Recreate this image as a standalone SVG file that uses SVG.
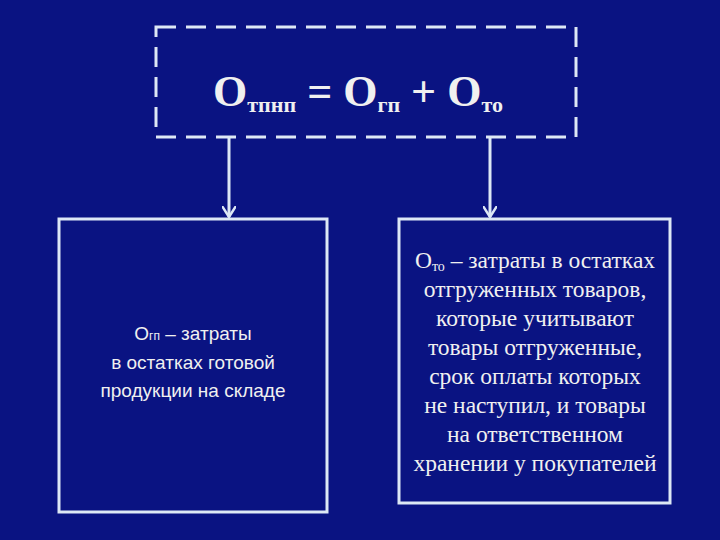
<svg xmlns="http://www.w3.org/2000/svg" width="720" height="540" viewBox="0 0 720 540">
<style>
.box{fill:none;stroke:#dde8f5;stroke-width:3}
.ser{font-family:"Liberation Serif",serif;fill:#f0f0f0}
.san{font-family:"Liberation Sans",sans-serif;fill:#f0f0f0}
.con{stroke:#dde8f5;stroke-width:3;fill:none}
</style>
<defs><marker id="ar" viewBox="0 0 12 14" refX="11" refY="7" markerWidth="12" markerHeight="14" markerUnits="userSpaceOnUse" orient="auto"><path d="M0,0 L11,7 L0,14" fill="none" stroke="#dde8f5" stroke-width="2.5"/></marker></defs>
<rect width="720" height="540" fill="#0a1382"/>
<g id="formula">
<rect class="box" x="156" y="27" width="420" height="110" stroke-dasharray="20,10"/>
<text class="ser" x="358" y="106" text-anchor="middle" font-weight="bold" font-size="44">О<tspan font-size="22" dy="6">тпнп</tspan><tspan dy="-6"> = О</tspan><tspan font-size="22" dy="6">гп</tspan><tspan dy="-6"> + О</tspan><tspan font-size="22" dy="6">то</tspan></text>
</g>
<g id="connectors">
<path class="con" d="M229,137 V217" marker-end="url(#ar)"/>
<path class="con" d="M490,137 V217" marker-end="url(#ar)"/>
</g>
<g id="left">
<rect class="box" x="59" y="219" width="268" height="293"/>
<text class="san" font-size="19" text-anchor="middle"><tspan x="193" y="340">О<tspan font-size="12">гп</tspan> – затраты</tspan><tspan x="193" y="369">в остатках готовой</tspan><tspan x="193" y="397">продукции на складе</tspan></text>
</g>
<g id="right">
<rect class="box" x="399" y="219" width="271" height="284"/>
<text class="ser" font-size="23.5" text-anchor="middle"><tspan x="535" y="268">О<tspan font-size="14" dy="3">то</tspan><tspan dy="-3"> – затраты в остатках</tspan></tspan><tspan x="535" y="297">отгруженных товаров,</tspan><tspan x="535" y="326">которые учитывают</tspan><tspan x="535" y="355">товары отгруженные,</tspan><tspan x="535" y="384">срок оплаты которых</tspan><tspan x="535" y="413">не наступил, и товары</tspan><tspan x="535" y="442">на ответственном</tspan><tspan x="535" y="471">хранении у покупателей</tspan></text>
</g>
</svg>
